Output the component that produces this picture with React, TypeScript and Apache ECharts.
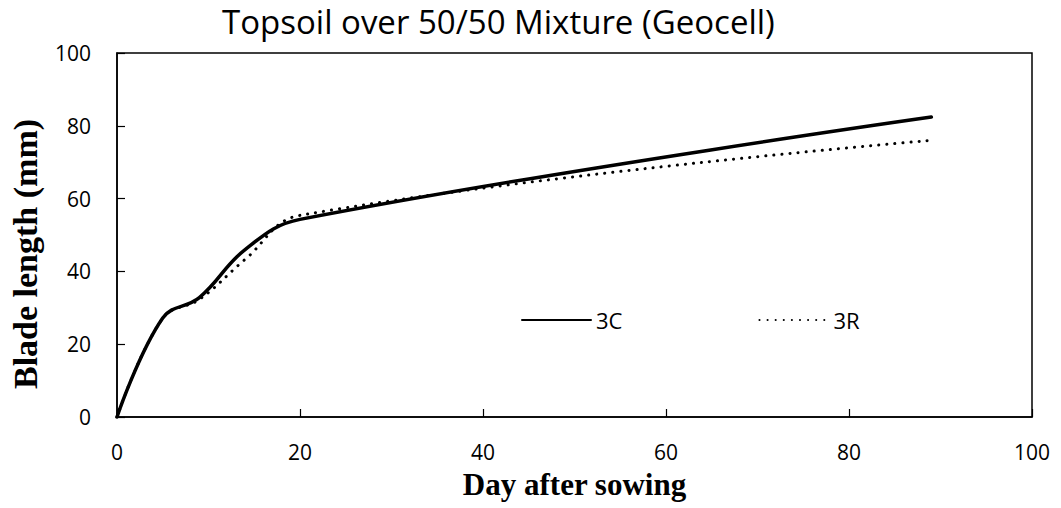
import React, { useEffect, useRef } from "react";
import * as echarts from "echarts";

// Days after sowing at which blade length was measured
const days = [0, 5, 9, 14, 20, 89];
// Blade length (mm) for each treatment
const series3C = [0, 27.2, 32.8, 46.0, 54.3, 82.4];
const series3R = [0, 27.2, 32.3, 43.3, 55.4, 76.0];
const axisTicks = [0, 20, 40, 60, 80, 100];

const toPairs = (ys: number[]) => days.map((d, i) => [d, ys[i]]);

export default function App() {
  const ref = useRef<HTMLDivElement>(null);

  useEffect(() => {
    if (!ref.current) return;
    const chart = echarts.init(ref.current, undefined, { renderer: "svg" });
    const tickMin = axisTicks[0];
    const tickMax = axisTicks[axisTicks.length - 1];
    const tickStep = axisTicks[1] - axisTicks[0];
    chart.setOption({
      animation: false,
      backgroundColor: "#ffffff",
      title: {
        text: "Topsoil over 50/50 Mixture (Geocell)",
        left: 217,
        top: 0,
        textStyle: {
          fontFamily: "Open Sans",
          fontWeight: "normal",
          fontSize: 33,
          color: "#000",
        },
      },
      graphic: [
        {
          type: "text",
          x: 25,
          y: 254,
          rotation: Math.PI / 2,
          style: {
            text: "Blade length (mm)",
            fontFamily: "Liberation Serif",
            fontWeight: "bold",
            fontSize: 34,
            fill: "#000",
            align: "center",
            verticalAlign: "middle",
          },
        },
      ],
      legend: {
        left: 516,
        top: 304,
        itemWidth: 69,
        itemHeight: 14,
        itemGap: 136,
        itemStyle: { opacity: 0 },
        textStyle: { fontFamily: "Open Sans", fontSize: 22, color: "#000" },
        data: ["3C", "3R"],
      },
      grid: {
        left: 117,
        right: 29,
        top: 53,
        bottom: 91,
        show: true,
        borderColor: "#000",
        borderWidth: 1.5,
      },
      xAxis: {
        type: "value",
        min: tickMin,
        max: tickMax,
        interval: tickStep,
        name: "Day after sowing",
        nameLocation: "middle",
        nameGap: 52,
        nameTextStyle: {
          fontFamily: "Liberation Serif",
          fontWeight: "bold",
          fontSize: 31,
          color: "#000",
        },
        axisLine: { show: true, lineStyle: { color: "#000", width: 1.5 } },
        axisTick: { show: true, inside: true, length: 8, lineStyle: { color: "#000", width: 1.2 } },
        axisLabel: { margin: 24, fontFamily: "Open Sans", fontSize: 21, color: "#000" },
        splitLine: { show: false },
      },
      yAxis: {
        type: "value",
        min: tickMin,
        max: tickMax,
        interval: tickStep,
        axisLine: { show: true, lineStyle: { color: "#000", width: 1.5 } },
        axisTick: { show: true, inside: true, length: 8, lineStyle: { color: "#000", width: 1.2 } },
        axisLabel: { margin: 26, fontFamily: "Open Sans", fontSize: 21, color: "#000" },
        splitLine: { show: false },
      },
      series: [
        {
          name: "3C",
          type: "line",
          data: toPairs(series3C),
          smooth: 0.4,
          showSymbol: false,
          symbol: "none",
          lineStyle: { color: "#000", width: 3.5, cap: "round", join: "round" },
          itemStyle: { color: "#000" },
        },
        {
          name: "3R",
          type: "line",
          data: toPairs(series3R),
          smooth: 0.4,
          showSymbol: false,
          symbol: "none",
          lineStyle: { color: "#000", width: 3, type: [0.1, 8], cap: "round" },
          itemStyle: { color: "#000" },
        },
      ],
    });
    return () => chart.dispose();
  }, []);

  return (
    <div
      ref={ref}
      style={{ position: "absolute", left: 0, top: 0, width: 1061, height: 508 }}
    />
  );
}
